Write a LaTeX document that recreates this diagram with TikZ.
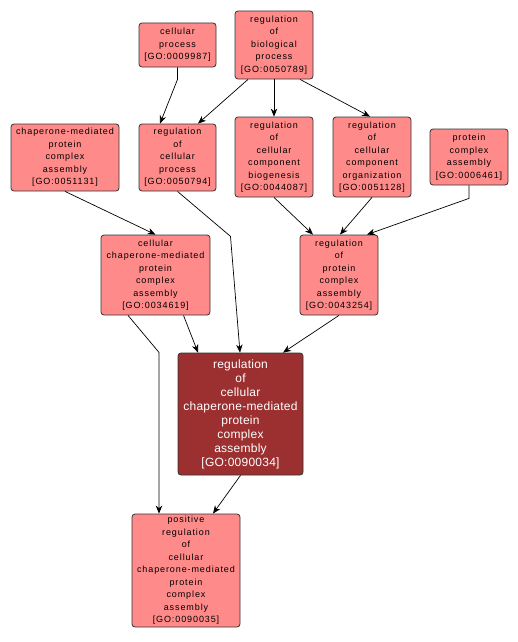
\documentclass[tikz,border=0pt]{standalone}
\usepackage{fontspec}
\usetikzlibrary{arrows.meta}
\newfontfamily\lightfam[LetterSpace=10]{Liberation Sans}
\newfontfamily\darkfam[LetterSpace=2]{Liberation Sans}
\definecolor{lightred}{HTML}{FF8A8A}
\definecolor{darkred}{HTML}{9C2F2F}
\definecolor{bordergray}{HTML}{333333}
\tikzset{
  gobox/.style={draw=bordergray, rounded corners=3pt, fill=lightred, align=center,
    inner sep=0pt, line width=0.8pt, font=\lightfam\fontsize{9}{12.5}\selectfont, text=black},
  godark/.style={gobox, fill=darkred, text=white, font=\darkfam\fontsize{12}{14}\selectfont},
  goedge/.style={-{Stealth[length=8pt,width=6.5pt,inset=2.5pt]}, line width=0.7pt, draw=black}
}
\begin{document}
\begin{tikzpicture}[x=1pt,y=-1pt]
\useasboundingbox (0,0) rectangle (518,642);
\node[gobox, minimum width=77pt, minimum height=44pt] (cp) at (177.5,45) {cellular\\process\\{[GO:0009987]}};
\node[gobox, minimum width=78pt, minimum height=68pt] (rbp) at (274,45) {regulation\\of\\biological\\process\\{[GO:0050789]}};
\node[gobox, minimum width=108pt, minimum height=67pt] (cmpca) at (65,157.5) {chaperone-mediated\\protein\\complex\\assembly\\{[GO:0051131]}};
\node[gobox, minimum width=77pt, minimum height=67pt] (rcp) at (177.5,157.5) {regulation\\of\\cellular\\process\\{[GO:0050794]}};
\node[gobox, minimum width=78pt, minimum height=80pt] (rccb) at (274,157) {regulation\\of\\cellular\\component\\biogenesis\\{[GO:0044087]}};
\node[gobox, minimum width=78pt, minimum height=80pt] (rcco) at (372,157) {regulation\\of\\cellular\\component\\organization\\{[GO:0051128]}};
\node[gobox, minimum width=78pt, minimum height=56pt] (pca) at (469,157) {protein\\complex\\assembly\\{[GO:0006461]}};
\node[gobox, minimum width=109pt, minimum height=80pt] (ccmpca) at (155.5,275) {cellular\\chaperone-mediated\\protein\\complex\\assembly\\{[GO:0034619]}};
\node[gobox, minimum width=78pt, minimum height=80pt] (rpca) at (339,275) {regulation\\of\\protein\\complex\\assembly\\{[GO:0043254]}};
\node[godark, minimum width=125pt, minimum height=122pt] (target) at (240.5,414) {regulation\\of\\cellular\\chaperone-mediated\\protein\\complex\\assembly\\{[GO:0090034]}};
\node[gobox, minimum width=108pt, minimum height=113pt] (pos) at (186,570.5) {positive\\regulation\\of\\cellular\\chaperone-mediated\\protein\\complex\\assembly\\{[GO:0090035]}};
\draw[goedge] (cp.south) -- ++(0,12) -- ([xshift=-17.5pt]rcp.north);
\draw[goedge] ([xshift=-26pt]rbp.south) -- ([xshift=20.5pt]rcp.north);
\draw[goedge] (rbp.south) -- (rccb.north);
\draw[goedge] ([xshift=26pt]rbp.south) -- ([xshift=-2pt]rcco.north);
\draw[goedge] (cmpca.south) -- (ccmpca.north);
\draw[goedge] (rcp.south) -- ++(53,45) -- ([xshift=-0.5pt]target.north);
\draw[goedge] ([xshift=28pt]ccmpca.south) -- ([xshift=-42.5pt]target.north);
\draw[goedge] ([xshift=-27.5pt]ccmpca.south) -- ++(31,37) -- ([xshift=-27pt]pos.north);
\draw[goedge] (rccb.south) -- ([xshift=-26pt]rpca.north);
\draw[goedge] (rcco.south) -- ([xshift=1pt]rpca.north);
\draw[goedge] (pca.south) -- ++(0,13) -- ([xshift=28pt]rpca.north);
\draw[goedge] (rpca.south) -- ([xshift=-56pt]rpca.south |- target.north);
\draw[goedge] (target.south) -- ([xshift=27pt]pos.north);
\end{tikzpicture}
\end{document}
